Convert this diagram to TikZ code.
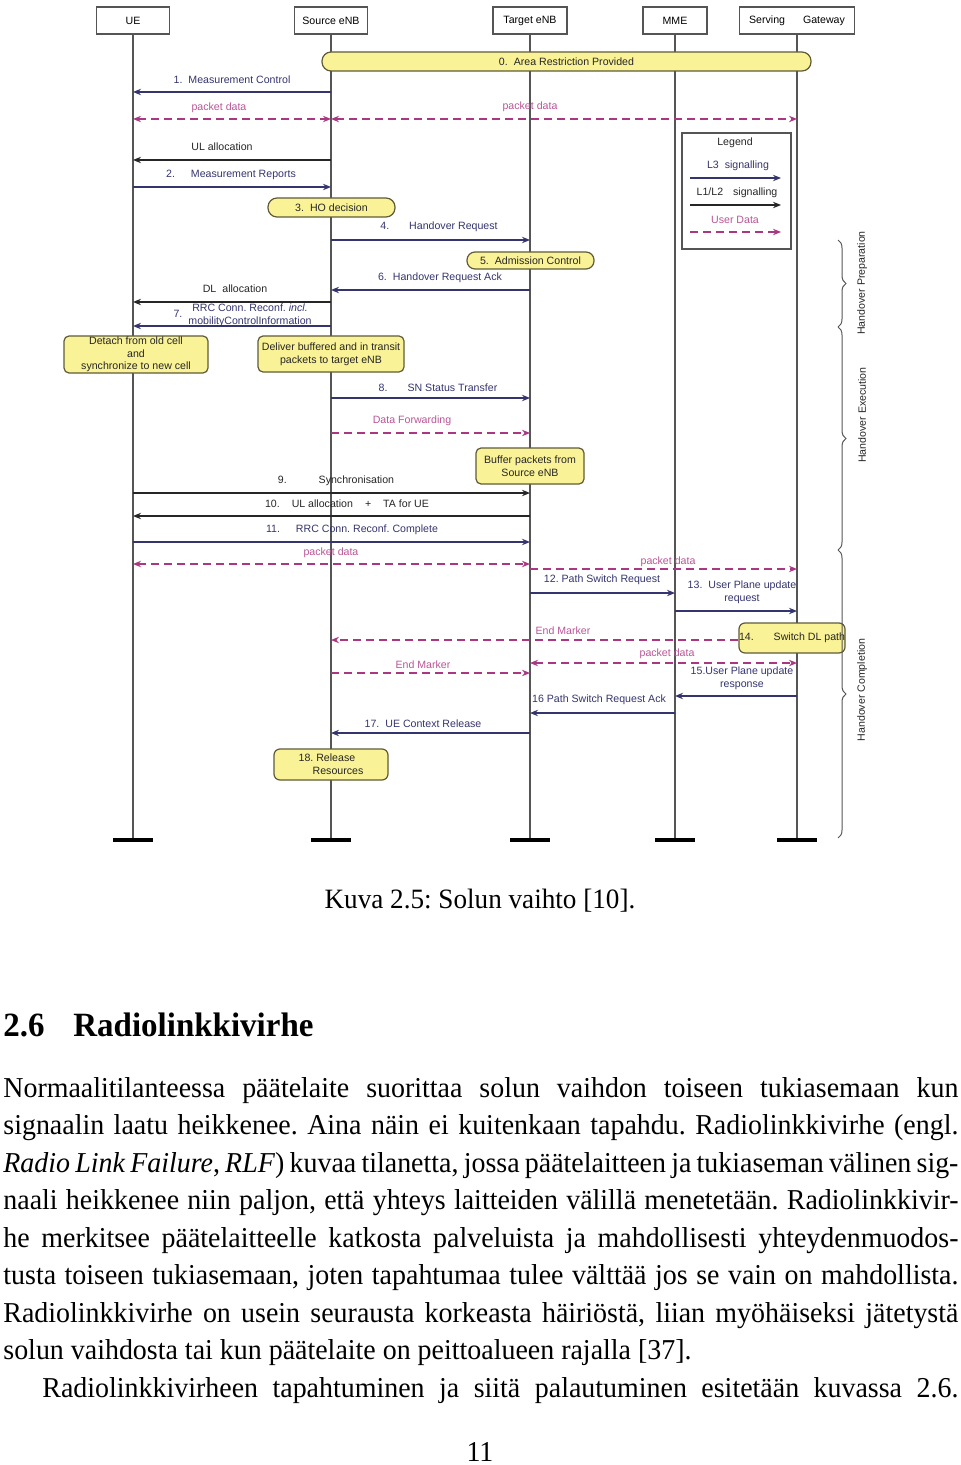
\documentclass[tikz,border=0pt]{standalone}
\usepackage{fontspec}
\usetikzlibrary{arrows.meta,decorations.pathreplacing}
\newfontfamily\diagfont{Liberation Sans}
\newfontfamily\pagefont[FakeStretch=0.97]{Liberation Serif}
\frenchspacing
\definecolor{lthreeblue}{RGB}{52, 52, 110}
\definecolor{userpink}{RGB}{170, 55, 130}
\definecolor{userlabel}{RGB}{185, 85, 150}
\definecolor{noteyellow}{RGB}{250, 242, 150}
\definecolor{noteedge}{RGB}{95, 90, 55}
\definecolor{lifegray}{RGB}{85, 85, 85}
\tikzset{
  actor/.style={draw=lifegray, fill=white, line width=0.6pt, minimum height=13.5pt, inner sep=0pt,
                font=\diagfont\fontsize{5.3}{6.5}\selectfont},
  lifeline/.style={draw=lifegray, line width=0.7pt},
  endbar/.style={draw=black, line width=2pt},
  note/.style={draw=noteedge, fill=noteyellow, line width=0.6pt, rounded corners=4pt, inner sep=0pt,
               align=center, text=black!85, font=\diagfont\fontsize{5.3}{6.3}\selectfont},
  lbl/.style={inner sep=0pt, text=lthreeblue, font=\diagfont\fontsize{5.3}{6.5}\selectfont},
  dlbl/.style={lbl, text=userlabel},
  blbl/.style={lbl, text=black!85},
  lthree/.style={draw=lthreeblue, line width=0.7pt, -{Stealth[length=4pt,width=3.2pt]}},
  ltwo/.style={draw=black!85, line width=0.7pt, -{Stealth[length=4pt,width=3.2pt]}},
  udata/.style={draw=userpink, line width=1pt, dash pattern=on 4pt off 2.5pt, -{Stealth[length=4pt,width=3.2pt]}},
  udboth/.style={udata, {Stealth[length=4pt,width=3.2pt]}-{Stealth[length=4pt,width=3.2pt]}},
  phase/.style={draw=lifegray, line width=0.5pt, decorate, decoration={brace, amplitude=4pt}},
  bodytext/.style={anchor=base west, inner sep=0pt, font=\pagefont\fontsize{14.4}{18}\selectfont},
}

\begin{document}
\begin{tikzpicture}[x=0.5pt,y=-0.5pt]
\useasboundingbox (0,0) rectangle (960,1465);

% actors
\node[actor, minimum width=36.5pt] (ue)  at (133,20.5) {UE};
\node[actor, minimum width=36.5pt] (src) at (331,20.5) {Source eNB};
\node[actor, minimum width=37pt]   (tgt) at (530,20.5) {Target eNB};
\node[actor, minimum width=32pt]   (mme) at (675,20.5) {MME};
\node[actor, minimum width=57.5pt] (sgw) at (797,20.5) {Serving\hspace{9pt}Gateway};

% lifelines
\coordinate (ue-end)  at (ue |- 0,840);
\coordinate (src-end) at (src |- 0,840);
\coordinate (tgt-end) at (tgt |- 0,840);
\coordinate (mme-end) at (mme |- 0,840);
\coordinate (sgw-end) at (sgw |- 0,840);
\draw[lifeline] (ue.south)  -- (ue-end);
\draw[lifeline] (src.south) -- (src-end);
\draw[lifeline] (tgt.south) -- (tgt-end);
\draw[lifeline] (mme.south) -- (mme-end);
\draw[lifeline] (sgw.south) -- (sgw-end);
\draw[endbar] ([xshift=-10pt]ue-end)  -- ([xshift=10pt]ue-end);
\draw[endbar] ([xshift=-10pt]src-end) -- ([xshift=10pt]src-end);
\draw[endbar] ([xshift=-10pt]tgt-end) -- ([xshift=10pt]tgt-end);
\draw[endbar] ([xshift=-10pt]mme-end) -- ([xshift=10pt]mme-end);
\draw[endbar] ([xshift=-10pt]sgw-end) -- ([xshift=10pt]sgw-end);

% messages
\draw[lthree] (src |- 0,92)  -- (ue |- 0,92);
\draw[udboth] (ue |- 0,119)  -- (src |- 0,119);
\draw[udboth] (src |- 0,119) -- (sgw |- 0,119);
\draw[ltwo]   (src |- 0,160) -- (ue |- 0,160);
\draw[lthree] (ue |- 0,187)  -- (src |- 0,187);
\draw[lthree] (src |- 0,240) -- (tgt |- 0,240);
\draw[lthree] (tgt |- 0,290) -- (src |- 0,290);
\draw[ltwo]   (src |- 0,302) -- (ue |- 0,302);
\draw[lthree] (src |- 0,326) -- (ue |- 0,326);
\draw[lthree] (src |- 0,398) -- (tgt |- 0,398);
\draw[udata]  (src |- 0,433) -- (tgt |- 0,433);
\draw[ltwo]   (ue |- 0,493)  -- (tgt |- 0,493);
\draw[ltwo]   (tgt |- 0,516) -- (ue |- 0,516);
\draw[lthree] (ue |- 0,542)  -- (tgt |- 0,542);
\draw[udboth] (ue |- 0,564)  -- (tgt |- 0,564);
\draw[udata]  (tgt |- 0,569) -- (sgw |- 0,569);
\draw[lthree] (tgt |- 0,593) -- (mme |- 0,593);
\draw[lthree] (mme |- 0,611) -- (sgw |- 0,611);
\draw[udboth] (tgt |- 0,663) -- (sgw |- 0,663);
\draw[udata]  (src |- 0,673) -- (tgt |- 0,673);
\draw[lthree] (sgw |- 0,696) -- (mme |- 0,696);
\draw[lthree] (mme |- 0,713) -- (tgt |- 0,713);
\draw[lthree] (tgt |- 0,733) -- (src |- 0,733);

% message labels
\node[lbl]  (t1)   at (232,80)  {1.\hspace{3pt}Measurement Control};
\node[dlbl] (tpd1) at (219,108) {packet data};
\node[dlbl] (tpd2) at (530,107) {packet data};
\node[blbl] (tul)  at (222,147) {UL allocation};
\node[lbl]  (t2)   at (231,175) {2.\hspace{8pt}Measurement Reports};
\node[lbl]  (t4)   at (439,227) {4.\hspace{10pt}Handover Request};
\node[lbl]  (t6)   at (440,278) {6.\hspace{3pt}Handover Request Ack};
\node[blbl] (tdl)  at (235,289) {DL\hspace{3pt}allocation};
\node[lbl, align=center] (t7) at (250,315) {RRC Conn. Reconf. \textit{incl.}\\mobilityControlInformation};
\node[lbl]  (t7n)  at (178,314) {7.};
\node[lbl]  (t8)   at (438,388) {8.\hspace{10pt}SN Status Transfer};
\node[dlbl] (tdf)  at (412,421) {Data Forwarding};
\node[blbl] (t9)   at (336,481) {9.\hspace{16pt}Synchronisation};
\node[blbl] (t10)  at (347,504) {10.\hspace{6pt}UL allocation\hspace{6pt}+\hspace{6pt}TA for UE};
\node[lbl]  (t11)  at (352,530) {11.\hspace{8pt}RRC Conn. Reconf. Complete};
\node[dlbl] (tpd3) at (331,553) {packet data};
\node[dlbl] (tpd4) at (668,562) {packet data};
\node[lbl]  (t12)  at (602,580) {12. Path Switch Request};
\node[lbl, align=center] (t13) at (742,592) {13.\hspace{3pt}User Plane update\\request};
\node[dlbl] (tem1) at (563,631) {End Marker};
\node[dlbl] (tpd5) at (667,654) {packet data};
\node[dlbl] (tem2) at (423,665) {End Marker};
\node[lbl, align=center] (t15) at (742,678) {15.User Plane update\\response};
\node[lbl]  (t16)  at (599,700) {16 Path Switch Request Ack};
\node[lbl]  (t17)  at (423,724) {17.\hspace{3pt}UE Context Release};

% notes
\node[note, minimum width=244.5pt, minimum height=9.5pt, rounded corners=4.5pt] (n0) at (566.5,61.5) {0.\hspace{3pt}Area Restriction Provided};
\node[note, minimum width=63.5pt, minimum height=9.5pt, rounded corners=4.5pt] (n3) at (331.5,207.5) {3.\hspace{3pt}HO decision};
\node[note, minimum width=63.5pt, minimum height=8.5pt, rounded corners=4pt] (n5) at (530.5,260.5) {5.\hspace{3pt}Admission Control};
\node[note, minimum width=72pt, minimum height=18.5pt, rounded corners=2.5pt] (ndetach) at (136,354.5) {Detach from old cell\\and\\synchronize to new cell};
\node[note, minimum width=73pt, minimum height=18pt, rounded corners=2.5pt] (ndeliver) at (331,354) {Deliver buffered and in transit\\packets to target eNB};
\node[note, minimum width=54pt, minimum height=18pt, rounded corners=2.5pt] (nbuffer) at (530,466) {Buffer packets from\\Source eNB};
\node[note, minimum width=50pt, minimum height=15pt, rounded corners=3pt] (n14) at (792,638) {14.\hspace{10pt}Switch DL path};
\node[note, minimum width=57pt, minimum height=15.5pt, rounded corners=3pt, align=left] (n18) at (331,764.5) {18. Release\\\hspace{7pt}Resources};
\draw[udata] (n14.west |- 0,640) -- (src |- 0,640);

% legend
\node[draw=lifegray, fill=white, line width=0.6pt, minimum width=54.5pt, minimum height=58pt, inner sep=0pt] (legend) at (736.5,191) {};
\node[blbl] (lgtitle) at (735,143) {Legend};
\node[lbl]  (lg3)     at (738,166) {L3\hspace{3pt}signalling};
\node[blbl] (lg2)     at (737,193) {L1/L2\hspace{5pt}signalling};
\node[dlbl] (lgud)    at (735,220) {User Data};
\coordinate (lg3a) at (690,178);  \coordinate (lg3b) at (781,178);
\coordinate (lg2a) at (690,205);  \coordinate (lg2b) at (781,205);
\coordinate (lgua) at (690,232);  \coordinate (lgub) at (781,232);
\draw[lthree] (lg3a) -- (lg3b);
\draw[ltwo]   (lg2a) -- (lg2b);
\draw[udata]  (lgua) -- (lgub);

% phases
\coordinate (ph0) at (838,240);
\coordinate (ph1) at (838,327);
\coordinate (ph2) at (838,550);
\coordinate (ph3) at (838,838);
\draw[phase] (ph0) -- (ph1);
\draw[phase] (ph1) -- (ph2);
\draw[phase] (ph2) -- (ph3);
\node[blbl, rotate=90] (prep) at (862,283) {Handover Preparation};
\node[blbl, rotate=90] (exec) at (862,415) {Handover Execution};
\node[blbl, rotate=90] (comp) at (862,690) {Handover Completion};

% page text
\node[anchor=base, inner sep=0pt, font=\pagefont\fontsize{14}{17}\selectfont] (caption) at (480,908) {Kuva 2.5: Solun vaihto [10].};
\node[anchor=base west, inner sep=0pt, font=\pagefont\bfseries\fontsize{17}{20}\selectfont] (secnum) at (3,1036) {2.6};
\node[anchor=base west, inner sep=0pt, font=\pagefont\bfseries\fontsize{17}{20}\selectfont] (sectitle) at (73,1036) {Radiolinkkivirhe};
\node[bodytext] (line1) at (3,1097)   {\makebox[477.5pt][s]{Normaalitilanteessa päätelaite suorittaa solun vaihdon toiseen tukiasemaan kun}};
\node[bodytext] (line2) at (3,1134.5) {\makebox[477.5pt][s]{signaalin laatu heikkenee. Aina näin ei kuitenkaan tapahdu. Radiolinkkivirhe (engl.}};
\node[bodytext] (line3) at (3,1172)   {\makebox[477.5pt][s]{\textit{Radio Link Failure}, \textit{RLF}) kuvaa tilanetta, jossa päätelaitteen ja tukiaseman välinen sig-}};
\node[bodytext] (line4) at (3,1209.5) {\makebox[477.5pt][s]{naali heikkenee niin paljon, että yhteys laitteiden välillä menetetään. Radiolinkkivir-}};
\node[bodytext] (line5) at (3,1247)   {\makebox[477.5pt][s]{he merkitsee päätelaitteelle katkosta palveluista ja mahdollisesti yhteydenmuodos-}};
\node[bodytext] (line6) at (3,1284.5) {\makebox[477.5pt][s]{tusta toiseen tukiasemaan, joten tapahtumaa tulee välttää jos se vain on mahdollista.}};
\node[bodytext] (line7) at (3,1322)   {\makebox[477.5pt][s]{Radiolinkkivirhe on usein seurausta korkeasta häiriöstä, liian myöhäiseksi jätetystä}};
\node[bodytext] (line8) at (3,1359.5) {solun vaihdosta tai kun päätelaite on peittoalueen rajalla [37].};
\node[bodytext] (line9) at (42,1397)  {\makebox[458pt][s]{Radiolinkkivirheen tapahtuminen ja siitä palautuminen esitetään kuvassa 2.6.}};
\node[anchor=base, inner sep=0pt, font=\pagefont\fontsize{14.4}{18}\selectfont] (pagenum) at (480,1461) {11};
\end{tikzpicture}
\end{document}
